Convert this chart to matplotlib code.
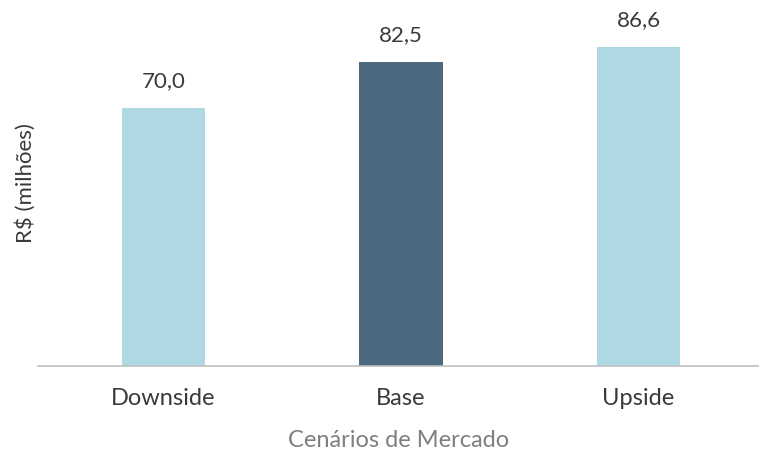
import matplotlib.pyplot as plt

# Market scenarios, R$ millions
cenarios = ["Downside", "Base", "Upside"]
valores = [70.0, 82.5, 86.6]
cores = ["#aed9e2", "#4b6a80", "#aed9e2"]

plt.rcParams["font.family"] = ["Lato", "DejaVu Sans"]

fig = plt.figure(figsize=(7.59, 4.51), dpi=100)
ax = fig.add_axes([0.05, 0.1885, 0.95, 0.8115])

x = range(len(cenarios))
bars = ax.bar(x, valores, width=0.35, color=cores)

for b, v in zip(bars, valores):
    ax.annotate(f"{v:.1f}".replace(".", ","),
                (b.get_x() + b.get_width() / 2, v),
                xytext=(0, 12), textcoords="offset points",
                ha="center", va="bottom", fontsize=16, color="#3a3a3a")

ax.set_xlim(-0.528, 2.507)
ax.set_ylim(0, 99.3)
ax.set_xticks(list(x))
ax.set_xticklabels(cenarios, fontsize=17, color="#3a3a3a")
ax.tick_params(axis="x", length=0, pad=16)
ax.set_yticks([])

ax.set_xlabel("Cenários de Mercado", fontsize=17, color="#7f7f7f", labelpad=15)
ax.set_ylabel("R$ (milhões)", fontsize=16, color="#3a3a3a", va="center")
ax.yaxis.set_label_coords(-0.017, 0.5)

for s in ["top", "right", "left"]:
    ax.spines[s].set_visible(False)
ax.spines["bottom"].set_color("#bfbfbf")
ax.spines["bottom"].set_linewidth(1.2)

fig.savefig("out.png", dpi=100)
